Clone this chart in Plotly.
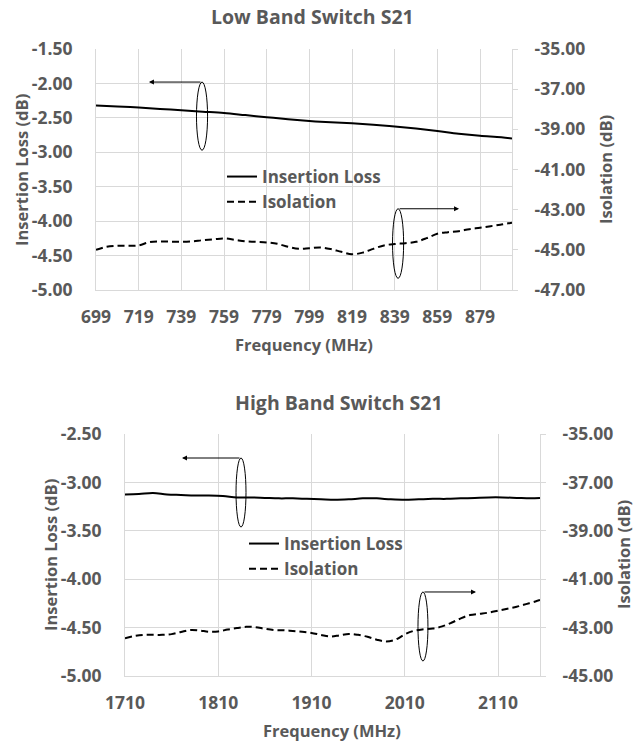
import plotly.graph_objects as go

# ---------------- data ----------------
lb_il_freq = [699, 709, 719, 729, 739, 749, 759, 769, 779, 789, 799,
              809, 819, 829, 839, 849, 859, 869, 879, 889, 894]
lb_il = [-2.32, -2.335, -2.35, -2.37, -2.39, -2.41, -2.43, -2.46, -2.49, -2.52, -2.545,
         -2.565, -2.58, -2.60, -2.625, -2.655, -2.69, -2.73, -2.76, -2.78, -2.80]

lb_iso_freq = [699, 704, 709, 714, 719, 724, 729, 734, 739, 744,
               749, 754, 759, 764, 769, 774, 779, 784, 789, 794,
               799, 804, 809, 814, 819, 824, 829, 834, 839, 844,
               849, 854, 859, 864, 869, 874, 879, 884, 889, 894]
lb_iso = [-45.0, -44.85, -44.8, -44.8, -44.78, -44.62, -44.58, -44.59, -44.6, -44.58,
          -44.52, -44.48, -44.43, -44.5, -44.58, -44.6, -44.63, -44.7, -44.85, -44.95,
          -44.92, -44.88, -44.96, -45.1, -45.22, -45.14, -44.95, -44.78, -44.71, -44.67,
          -44.6, -44.42, -44.2, -44.12, -44.07, -43.97, -43.9, -43.82, -43.74, -43.65]

hb_il_freq = [1710, 1725, 1740, 1755, 1770, 1785, 1800, 1815, 1830, 1845,
              1860, 1875, 1890, 1905, 1920, 1935, 1950, 1965, 1980, 1995,
              2010, 2025, 2040, 2055, 2070, 2085, 2100, 2115, 2130, 2145, 2155]
hb_il = [-3.125, -3.12, -3.11, -3.125, -3.13, -3.135, -3.135, -3.14, -3.155, -3.155,
         -3.16, -3.165, -3.165, -3.17, -3.175, -3.18, -3.175, -3.165, -3.165, -3.175,
         -3.18, -3.175, -3.17, -3.17, -3.165, -3.16, -3.155, -3.155, -3.16, -3.165, -3.16]

hb_iso_freq = [1710, 1720, 1730, 1740, 1750, 1760, 1770, 1780, 1790, 1800,
               1810, 1820, 1830, 1840, 1850, 1860, 1870, 1880, 1890, 1900,
               1910, 1920, 1930, 1940, 1950, 1960, 1970, 1980, 1990, 2000,
               2010, 2020, 2030, 2040, 2050, 2060, 2070, 2080, 2090, 2100,
               2110, 2120, 2130, 2140, 2150, 2155]
hb_iso = [-43.44, -43.35, -43.3, -43.3, -43.3, -43.27, -43.18, -43.1, -43.12, -43.17,
          -43.16, -43.08, -43.02, -42.97, -42.98, -43.05, -43.1, -43.11, -43.14, -43.17,
          -43.22, -43.3, -43.37, -43.32, -43.26, -43.3, -43.38, -43.5, -43.57, -43.5,
          -43.28, -43.13, -43.07, -43.04, -42.95, -42.8, -42.62, -42.48, -42.43, -42.38,
          -42.3, -42.22, -42.14, -42.03, -41.92, -41.86]

# tick values / labels
lb_x_ticks = [699, 719, 739, 759, 779, 799, 819, 839, 859, 879]
hb_x_ticks = [1710, 1810, 1910, 2010, 2110]
lb_il_ticks = [-1.5, -2.0, -2.5, -3.0, -3.5, -4.0, -4.5, -5.0]
lb_il_labels = ["-1.50", "-2.00", "-2.50", "-3.00", "-3.50", "-4.00", "-4.50", "-5.00"]
lb_iso_ticks = [-35, -37, -39, -41, -43, -45, -47]
lb_iso_labels = ["-35.00", "-37.00", "-39.00", "-41.00", "-43.00", "-45.00", "-47.00"]
hb_il_ticks = [-2.5, -3.0, -3.5, -4.0, -4.5, -5.0]
hb_il_labels = ["-2.50", "-3.00", "-3.50", "-4.00", "-4.50", "-5.00"]
hb_iso_ticks = [-35, -37, -39, -41, -43, -45]
hb_iso_labels = ["-35.00", "-37.00", "-39.00", "-41.00", "-43.00", "-45.00"]

titles = ["Low Band Switch S21", "High Band Switch S21"]
series_names = ["Insertion Loss", "Isolation"]

# ---------------- style ----------------
W, H = 636, 744
FONT = "Open Sans"
GRAY = "#595959"
GRID = "#d9d9d9"
tickfont = dict(family=FONT, size=17.5, color=GRAY, weight="bold")
legfont = dict(family=FONT, size=17, color=GRAY, weight="bold")
DASH = "7px,4px"


def px_x(p):
    return p / W


def px_y(p):
    return 1 - p / H


fig = go.Figure()

fig.add_trace(go.Scatter(x=lb_il_freq, y=lb_il, name=series_names[0], mode="lines",
                         line=dict(color="black", width=2, shape="spline"),
                         xaxis="x", yaxis="y", legend="legend"))
fig.add_trace(go.Scatter(x=lb_iso_freq, y=lb_iso, name=series_names[1], mode="lines",
                         line=dict(color="black", width=2, dash=DASH, shape="spline"),
                         xaxis="x", yaxis="y2", legend="legend"))
fig.add_trace(go.Scatter(x=hb_il_freq, y=hb_il, name=series_names[0], mode="lines",
                         line=dict(color="black", width=2, shape="spline"),
                         xaxis="x2", yaxis="y3", legend="legend2"))
fig.add_trace(go.Scatter(x=hb_iso_freq, y=hb_iso, name=series_names[1], mode="lines",
                         line=dict(color="black", width=2, dash=DASH, shape="spline"),
                         xaxis="x2", yaxis="y4", legend="legend2"))

top_dom_y = [px_y(290), px_y(49)]
bot_dom_y = [px_y(676), px_y(434)]

xcommon = dict(showgrid=True, gridcolor=GRID, gridwidth=1, showline=True, linecolor=GRID,
               ticks="", tickfont=tickfont, zeroline=False, automargin=False,
               ticklabelstandoff=11)
ylcommon = dict(showgrid=True, gridcolor=GRID, gridwidth=1, showline=True, linecolor=GRID,
                ticks="", tickfont=tickfont, zeroline=False, automargin=False,
                ticklabelstandoff=19)
yrcommon = dict(showgrid=False, showline=True, linecolor=GRID, ticks="outside", ticklen=5,
                tickcolor=GRID, tickfont=tickfont, zeroline=False, side="right",
                automargin=False, ticklabelstandoff=13)

fig.update_layout(
    width=W, height=H,
    margin=dict(l=0, r=0, t=0, b=0, autoexpand=False),
    paper_bgcolor="white", plot_bgcolor="white",
    xaxis=dict(domain=[px_x(96), px_x(512)], anchor="y", range=[699, 894],
               tickvals=lb_x_ticks, ticktext=[str(v) for v in lb_x_ticks], **xcommon),
    yaxis=dict(domain=top_dom_y, anchor="x", range=[-5, -1.5],
               tickvals=lb_il_ticks, ticktext=lb_il_labels, **ylcommon),
    yaxis2=dict(overlaying="y", anchor="x", range=[-47, -35],
                tickvals=lb_iso_ticks, ticktext=lb_iso_labels, **yrcommon),
    xaxis2=dict(domain=[px_x(125), px_x(540)], anchor="y3", range=[1710, 2155],
                tickvals=hb_x_ticks, ticktext=[str(v) for v in hb_x_ticks], **xcommon),
    yaxis3=dict(domain=bot_dom_y, anchor="x2", range=[-5, -2.5],
                tickvals=hb_il_ticks, ticktext=hb_il_labels, **ylcommon),
    yaxis4=dict(overlaying="y3", anchor="x2", range=[-45, -35],
                tickvals=hb_iso_ticks, ticktext=hb_iso_labels, **yrcommon),
    legend=dict(x=px_x(222), y=px_y(159), xanchor="left", yanchor="top",
                bgcolor="rgba(0,0,0,0)", font=legfont, tracegroupgap=0),
    legend2=dict(x=px_x(244), y=px_y(526), xanchor="left", yanchor="top",
                 bgcolor="rgba(0,0,0,0)", font=legfont, tracegroupgap=0),
    showlegend=True,
)


def txt(text, x, y, size, angle=0):
    fig.add_annotation(text=text, x=px_x(x), y=px_y(y), xref="paper", yref="paper",
                       showarrow=False, textangle=angle, xanchor="center", yanchor="middle",
                       font=dict(family=FONT, size=size, color=GRAY, weight="bold"))


txt(titles[0], 312, 17, 19.5)
txt(titles[1], 339, 402, 19.5)
txt("Frequency (MHz)", 304, 344, 16.5)
txt("Frequency (MHz)", 332, 730, 16.5)
txt("Insertion Loss (dB)", 21, 170, 16.5, -90)
txt("Insertion Loss (dB)", 50, 555, 16.5, -90)
txt("Isolation (dB)", 605, 170, 16.5, -90)
txt("Isolation (dB)", 623, 555, 16.5, -90)


# ellipses + arrows (in data coordinates)
def ellipse(xref, yref, xc, w, y0, y1):
    fig.add_shape(type="circle", xref=xref, yref=yref, x0=xc - w / 2, x1=xc + w / 2,
                  y0=y0, y1=y1, line=dict(color="black", width=1))


def arrow(xref, yref, x_from, x_to, yv):
    fig.add_annotation(x=x_to, y=yv, ax=x_from, ay=yv, xref=xref, yref=yref,
                       axref=xref, ayref=yref, showarrow=True, arrowhead=2,
                       arrowsize=1, arrowwidth=1, arrowcolor="black", text="")


ellipse("x", "y", 748.7, 5.2, -2.97, -1.98)
arrow("x", "y", 748.7, 723.8, -1.98)
ellipse("x", "y", 840.6, 5.2, -4.83, -3.82)
arrow("x", "y", 840.6, 869.2, -3.82)

ellipse("x2", "y3", 1834.4, 10.7, -3.461, -2.748)
arrow("x2", "y3", 1834.4, 1771.1, -2.748)
ellipse("x2", "y3", 2029.5, 10.7, -4.845, -4.132)
arrow("x2", "y3", 2029.5, 2086.4, -4.132)

fig.write_html("out.html")
